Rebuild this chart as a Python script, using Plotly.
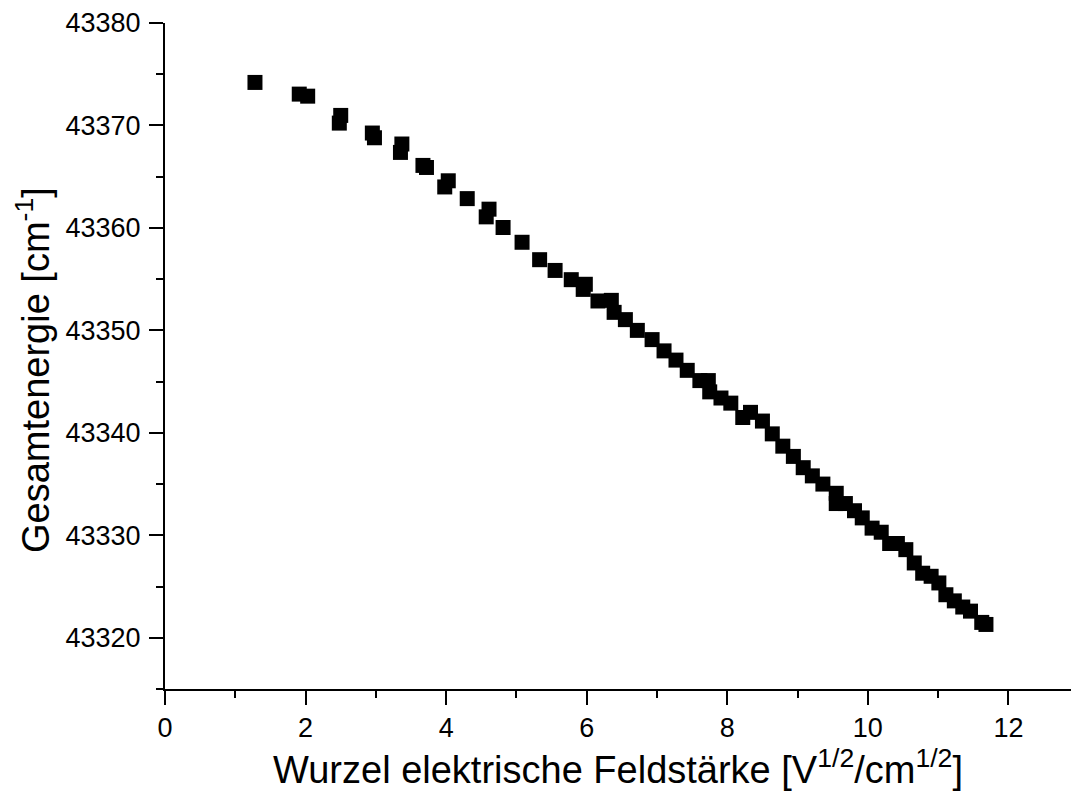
import plotly.graph_objects as go

# Square root of field strength [V^1/2 / cm^1/2]
sqrt_field = [
    1.28, 1.91, 2.03, 2.50, 2.48, 2.95, 2.98, 3.37, 3.35, 3.67,
    3.72, 4.03, 3.98, 4.30, 4.61, 4.57, 4.81, 5.08, 5.33, 5.55,
    5.78, 5.98, 5.95, 6.16, 6.35, 6.39, 6.55, 6.72, 6.93, 7.10,
    7.27, 7.43, 7.61, 7.73, 7.75, 7.91, 8.05, 8.22, 8.33, 8.50,
    8.64, 8.79, 8.94, 9.08, 9.21, 9.36, 9.55, 9.55, 9.68, 9.81,
    9.92, 10.06, 10.19, 10.31, 10.42, 10.54, 10.66, 10.78, 10.90, 11.01,
    11.11, 11.23, 11.35, 11.46, 11.62, 11.68,
]

# Total energy [cm^-1]
total_energy = [
    43374.2, 43373.06, 43372.86, 43370.98, 43370.23, 43369.26, 43368.8, 43368.19, 43367.37, 43366.1,
    43365.9, 43364.6, 43364.0, 43362.86, 43361.83, 43361.08, 43360.04, 43358.6, 43356.9, 43355.85,
    43354.95, 43354.5, 43354.0, 43352.87, 43352.93, 43351.76, 43351.05, 43350.0, 43349.1, 43348.0,
    43347.1, 43346.1, 43345.1, 43345.1, 43344.0, 43343.4, 43342.9, 43341.5, 43342.0, 43341.15,
    43339.9, 43338.7, 43337.7, 43336.6, 43335.8, 43335.0, 43334.1, 43333.1, 43333.1, 43332.4,
    43331.7, 43330.7, 43330.3, 43329.2, 43329.2, 43328.6, 43327.3, 43326.3, 43326.0, 43325.35,
    43324.2, 43323.6, 43323.0, 43322.6, 43321.5, 43321.3,
]

x_ticks = [0, 2, 4, 6, 8, 10, 12]
y_ticks = [43320, 43330, 43340, 43350, 43360, 43370, 43380]

FONT = "Arial, 'Liberation Sans', sans-serif"
TITLE_SIZE = 38

fig = go.Figure(
    go.Scatter(
        x=sqrt_field,
        y=total_energy,
        mode="markers",
        marker=dict(symbol="square", size=15, color="black", line=dict(width=0)),
        showlegend=False,
    )
)

axis_common = dict(
    showgrid=False,
    zeroline=False,
    showline=True,
    linecolor="black",
    linewidth=2,
    ticks="outside",
    ticklen=14,
    tickwidth=2,
    tickcolor="black",
    tickfont=dict(family=FONT, size=27, color="black"),
)

fig.update_xaxes(
    **axis_common,
    range=[0, 12.89],
    tickvals=x_ticks,
    ticktext=[str(v) for v in x_ticks],
    minor=dict(ticks="outside", ticklen=7, tickwidth=2, tickcolor="black", dtick=1, tick0=0),
    title_text="Wurzel elektrische Feldstärke [V<sup>1/2</sup>/cm<sup>1/2</sup>]",
    title_font=dict(family=FONT, size=TITLE_SIZE, color="black"),
    title_standoff=14,
    ticklabelstandoff=0,
)

fig.update_yaxes(
    **axis_common,
    range=[43315, 43380],
    tickvals=y_ticks,
    ticktext=[str(v) for v in y_ticks],
    minor=dict(ticks="outside", ticklen=7, tickwidth=2, tickcolor="black", dtick=5, tick0=43315),
    ticklabelstandoff=3,
)

# Vertical axis title, placed a little below the plot-area centre
fig.add_annotation(
    text="Gesamtenergie [cm<sup>-1</sup>]",
    textangle=-90,
    xref="paper",
    yref="paper",
    x=(33 - 165) / 906,
    y=(689.3 - 370) / 666.6,
    xanchor="center",
    yanchor="middle",
    showarrow=False,
    font=dict(family=FONT, size=TITLE_SIZE, color="black"),
)

fig.update_layout(
    width=1071,
    height=805,
    margin=dict(l=165, r=0, t=23, b=116),
    paper_bgcolor="white",
    plot_bgcolor="white",
    font=dict(family=FONT, color="black"),
)

fig.write_html("out.html")
